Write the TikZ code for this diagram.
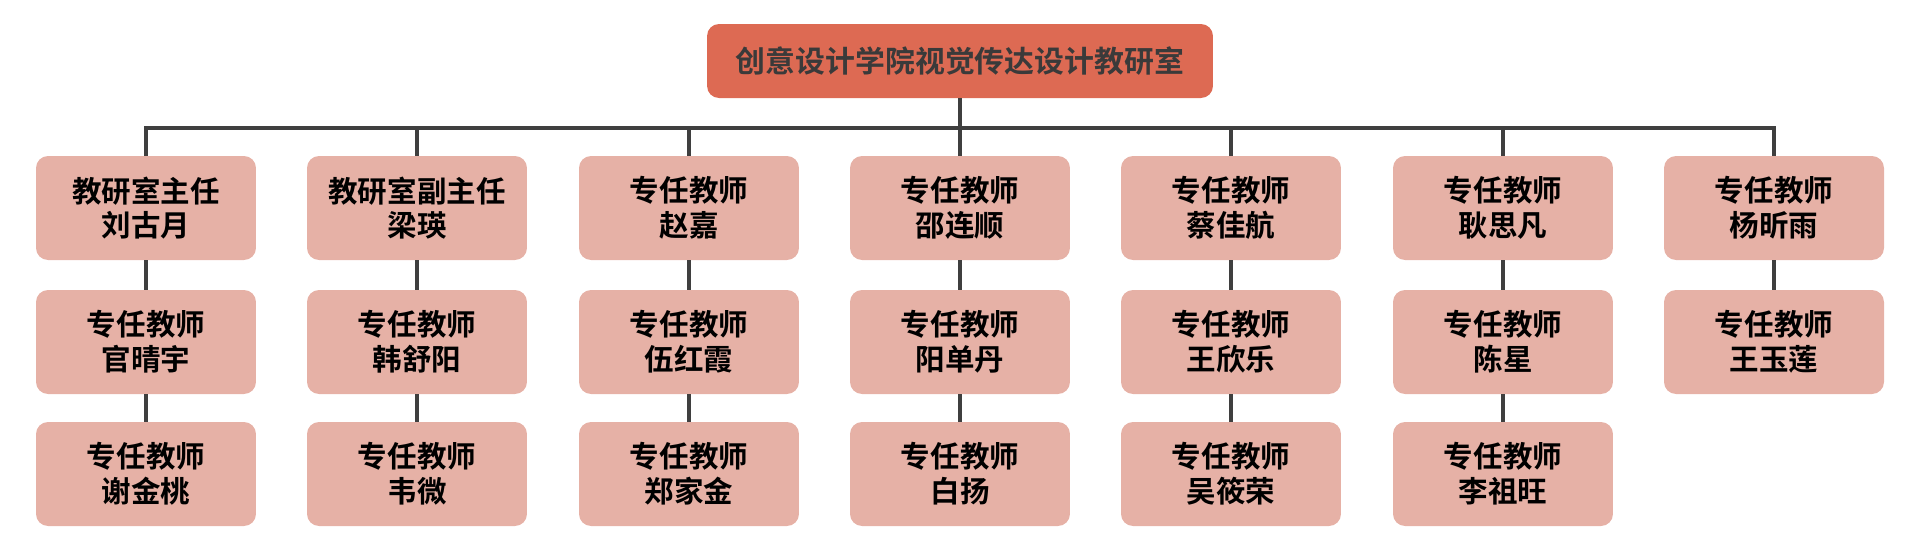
\documentclass[tikz,border=0pt]{standalone}
\usepackage{fontspec}
\usepackage{xcolor}
\usepackage{tikz}
\usetikzlibrary{positioning}
\newfontfamily\cjk{Noto Sans CJK SC}[BoldFont={Noto Sans CJK SC Bold}]
\definecolor{headred}{HTML}{DD6A53}
\definecolor{cellpink}{HTML}{E6B1A6}
\definecolor{linegray}{HTML}{3F3F3F}
\definecolor{headtext}{HTML}{3A3A3A}
\tikzset{
  head/.style={fill=headred, rounded corners=0.24cm, minimum width=10.12cm,
    minimum height=1.48cm, text=headtext, font=\cjk\bfseries\fontsize{17}{20}\selectfont},
  cell/.style={fill=cellpink, rounded corners=0.24cm, minimum width=4.4cm,
    minimum height=2.08cm, align=center, font=\cjk\bfseries\fontsize{16.8}{19.8}\selectfont},
  link/.style={draw=linegray, line width=2.2pt}
}
\begin{document}
\begin{tikzpicture}[x=0.02cm,y=-0.02cm]
\useasboundingbox (0,0) rectangle (1920,549);
\node[head] (t) at (960,61) {创意设计学院视觉传达设计教研室};
\coordinate (bus) at (960,128);
% first row
\node[cell] (n11) at (146,208)  {教研室主任\\刘古月};
\node[cell] (n21) at (417,208)  {教研室副主任\\梁瑛};
\node[cell] (n31) at (689,208)  {专任教师\\赵嘉};
\node[cell] (n41) at (960,208)  {专任教师\\邵连顺};
\node[cell] (n51) at (1231,208) {专任教师\\蔡佳航};
\node[cell] (n61) at (1503,208) {专任教师\\耿思凡};
\node[cell] (n71) at (1774,208) {专任教师\\杨昕雨};
% second row
\node[cell] (n12) at (146,342)  {专任教师\\官晴宇};
\node[cell] (n22) at (417,342)  {专任教师\\韩舒阳};
\node[cell] (n32) at (689,342)  {专任教师\\伍红霞};
\node[cell] (n42) at (960,342)  {专任教师\\阳单丹};
\node[cell] (n52) at (1231,342) {专任教师\\王欣乐};
\node[cell] (n62) at (1503,342) {专任教师\\陈星};
\node[cell] (n72) at (1774,342) {专任教师\\王玉莲};
% third row
\node[cell] (n13) at (146,474)  {专任教师\\谢金桃};
\node[cell] (n23) at (417,474)  {专任教师\\韦微};
\node[cell] (n33) at (689,474)  {专任教师\\郑家金};
\node[cell] (n43) at (960,474)  {专任教师\\白扬};
\node[cell] (n53) at (1231,474) {专任教师\\吴筱荣};
\node[cell] (n63) at (1503,474) {专任教师\\李祖旺};
% connectors
\draw[link] (t.south) -- (bus);
\draw[link] (n11.north) |- (bus);
\draw[link] (n21.north) |- (bus);
\draw[link] (n31.north) |- (bus);
\draw[link] (n41.north) -- (bus);
\draw[link] (n51.north) |- (bus);
\draw[link] (n61.north) |- (bus);
\draw[link] (n71.north) |- (bus);
\draw[link] (n11) -- (n12);
\draw[link] (n12) -- (n13);
\draw[link] (n21) -- (n22);
\draw[link] (n22) -- (n23);
\draw[link] (n31) -- (n32);
\draw[link] (n32) -- (n33);
\draw[link] (n41) -- (n42);
\draw[link] (n42) -- (n43);
\draw[link] (n51) -- (n52);
\draw[link] (n52) -- (n53);
\draw[link] (n61) -- (n62);
\draw[link] (n62) -- (n63);
\draw[link] (n71) -- (n72);
\end{tikzpicture}
\end{document}
